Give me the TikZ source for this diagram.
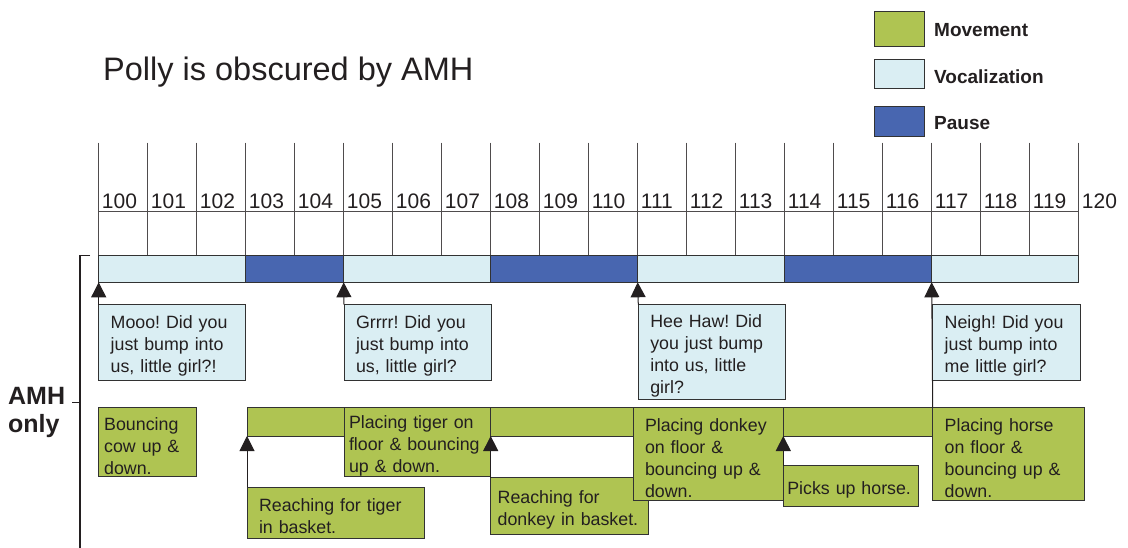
\documentclass[tikz,border=0pt]{standalone}
\usepackage{fontspec}
\setmainfont{Liberation Sans}
\usetikzlibrary{arrows.meta}
\frenchspacing
\hyphenpenalty=10000
\definecolor{movegreen}{RGB}{175,196,82}
\definecolor{vocblue}{RGB}{218,238,243}
\definecolor{pauseblue}{RGB}{72,102,176}
\definecolor{edgegray}{RGB}{50,50,50}
\definecolor{ink}{RGB}{35,31,32}
\tikzset{
  box/.style={draw=edgegray,line width=1pt,anchor=north west,inner xsep=12pt,inner ysep=0pt,outer sep=0pt,
    align=left,text=ink,font=\fontsize{17.8}{22}\selectfont,execute at begin node={\rule{0pt}{20.5pt}}},
  voc/.style={box,fill=vocblue},
  mov/.style={box,fill=movegreen},
  seg/.style={draw=edgegray,line width=1pt,anchor=north west,minimum height=27pt,inner sep=0pt,outer sep=0pt},
  grid/.style={draw=ink!80,line width=1pt},
  tick/.style={anchor=base west,inner sep=0pt,text=ink,font=\fontsize{21}{21}\selectfont},
  key/.style={draw=edgegray,line width=1pt,anchor=north west,minimum width=50pt,inner sep=0pt,outer sep=0pt},
  keytext/.style={anchor=west,inner sep=0pt,text=ink,font=\fontsize{19}{19}\selectfont\bfseries},
  trig/.style={draw=ink,line width=1pt,-{Triangle[width=15pt,length=15pt]}}
}
\begin{document}
\begin{tikzpicture}[x=1pt,y=-1pt]
  \useasboundingbox (0,0) rectangle (1128,548);
  \node[anchor=base west,inner sep=0pt,text=ink,font=\fontsize{32.5}{38}\selectfont] (title) at (103,80.7) {Polly is obscured by AMH};
  \node[key,fill=movegreen,minimum height=35pt] (keymove) at (874,12) {};
  \node[key,fill=vocblue,minimum height=29pt] (keyvoc) at (874,60) {};
  \node[key,fill=pauseblue,minimum height=30pt] (keypause) at (874,107) {};
  \node[keytext] (keymovetext) at (934,30) {Movement};
  \node[keytext] (keyvoctext) at (934,76.7) {Vocalization};
  \node[keytext] (keypausetext) at (934,122.7) {Pause};
  \foreach \t in {100,...,120}{
    \pgfmathsetmacro\x{98.7+49*(\t-100)}
    \draw[grid] (\x,142.7) -- (\x,255.3);
    \node[tick] (n\t) at (\x+3,209) {\t};
  }
  \draw[grid] (98.7,211.7) -- (1078.7,211.7);
  \foreach \a/\b/\c/\n in {100/103/vocblue/v1,103/105/pauseblue/p1,105/108/vocblue/v2,108/111/pauseblue/p2,111/114/vocblue/v3,114/117/pauseblue/p3,117/120/vocblue/v4}{
    \pgfmathsetmacro\x{98.7+49*(\a-100)}
    \pgfmathsetmacro\w{49*(\b-\a)}
    \node[seg,fill=\c,minimum width=\w pt] (\n) at (\x,255.3) {};
  }
  \draw[ink,line width=1.2pt] (90,255.3) -- (80,255.3) -- (80,548);
  \draw[ink,line width=1.2pt] (72,402.7) -- (80,402.7);
  \node[anchor=north west,inner sep=0pt,align=left,text=ink,font=\fontsize{25}{28}\selectfont\bfseries] (amh) at (8,386.7) {AMH\\only};
  \node[voc,minimum width=147pt,minimum height=75.3pt,text width=123pt] (moo) at (98.7,304.7) {Mooo! Did you\\just bump into\\us, little girl?!};
  \node[voc,minimum width=147.3pt,minimum height=75.3pt,text width=123.3pt] (grr) at (344,304.7) {Grrrr! Did you\\just bump into\\us, little girl?};
  \node[voc,minimum width=147pt,minimum height=94.3pt,text width=123pt] (hee) at (638.3,304.7) {Hee Haw! Did\\you just bump\\into us, little\\girl?};
  \node[voc,minimum width=147.3pt,minimum height=75.6pt,text width=123.3pt] (neigh) at (932.7,304.7) {Neigh! Did you\\just bump into\\me little girl?};
  \node[mov,minimum width=685.7pt,minimum height=28.7pt] (movebar) at (247,407.3) {};
  \node[mov,inner xsep=5.5pt,minimum width=98pt,minimum height=69.4pt,text width=87pt] (cow) at (98.7,407.3) {Bouncing\\cow up \&\\down.};
  \node[mov,inner xsep=5pt,minimum width=146.7pt,minimum height=69.4pt,text width=136.7pt] (tiger) at (344,407.3) {Placing tiger on\\floor \& bouncing\\up \& down.};
  \node[mov,minimum width=177pt,minimum height=51pt,text width=153pt] (reachtiger) at (247,487.3) {Reaching for tiger\\in basket.};
  \node[mov,inner xsep=7pt,minimum width=158pt,minimum height=56.6pt,text width=144pt] (reachdonkey) at (490.7,477.7) {Reaching for\\donkey in basket.};
  \node[mov,minimum width=150.3pt,minimum height=93.4pt,text width=126.3pt] (donkey) at (633,407.3) {Placing donkey\\on floor \&\\bouncing up \&\\down.};
  \node[mov,inner xsep=4pt,minimum width=135.4pt,minimum height=40.3pt,text width=127.4pt] (picks) at (783.3,465.7) {Picks up horse.};
  \node[mov,minimum width=151.3pt,minimum height=93.4pt,text width=127.3pt] (horse) at (932.7,407.3) {Placing horse\\on floor \&\\bouncing up \&\\down.};
  \draw[trig] (moo.north west) -- (v1.south west);
  \draw[trig] (grr.north west) -- (v2.south west);
  \draw[trig] (hee.north west) -- (v3.south west);
  \draw[trig] (horse.north west) -- (v4.south west);
  \draw[trig] (reachtiger.north west) -- (movebar.south west);
  \draw[trig] (reachdonkey.north west) -- (reachdonkey.north west |- movebar.south);
  \draw[trig] (picks.north west) -- (picks.north west |- movebar.south);
\end{tikzpicture}
\end{document}
